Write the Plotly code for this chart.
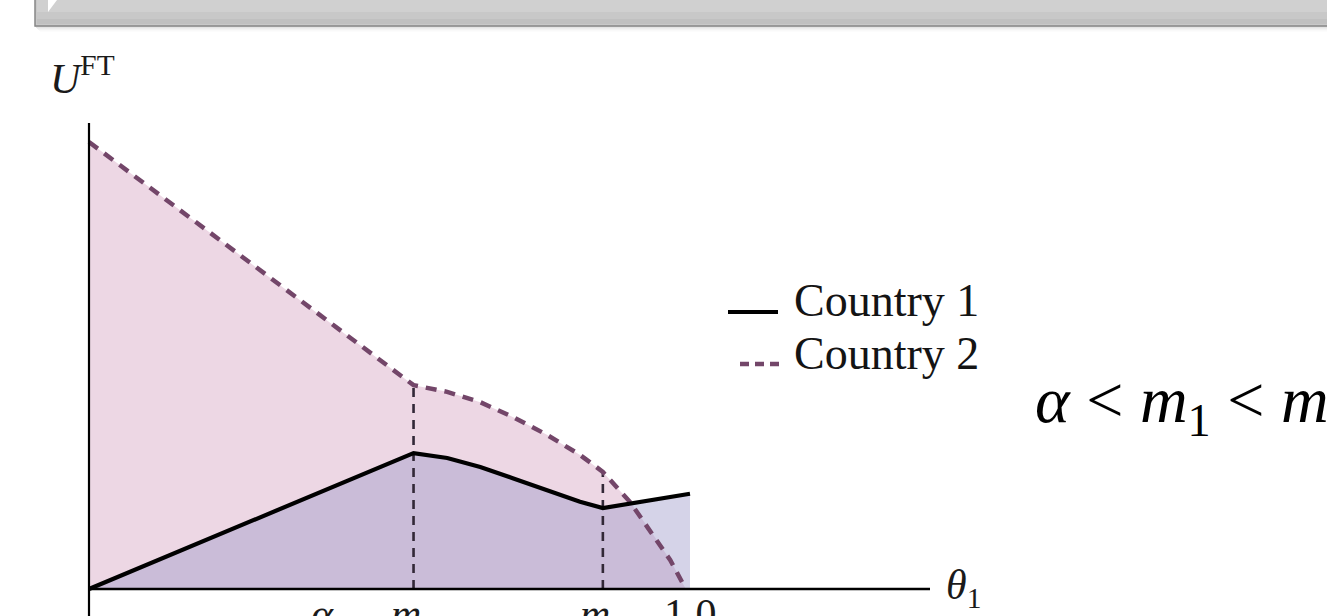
import plotly.graph_objects as go

W, H = 1327, 616

# Utility of country 2 (dashed) and country 1 (solid) against theta_1
theta_c2 = [0.0, 0.540, 0.596, 0.651, 0.705, 0.762, 0.817, 0.855, 0.900, 0.938, 0.967, 0.993]
u_c2 = [1.0, 0.456, 0.441, 0.418, 0.385, 0.345, 0.300, 0.262, 0.195, 0.123, 0.065, 0.0]
theta_c1 = [0.0, 0.540, 0.596, 0.651, 0.705, 0.762, 0.817, 0.855, 1.0]
u_c1 = [0.0, 0.304, 0.293, 0.273, 0.248, 0.221, 0.195, 0.181, 0.213]

# Thresholds m1, m2 and tick labels along the theta axis
thresholds = [0.540, 0.855]
tick_vals = [0.388, 0.540, 0.855, 1.0]
tick_text = ["<i>α</i>", "<i>m</i><sub>1</sub>", "<i>m</i><sub>2</sub>", "1.0"]
series_names = ["Country 1", "Country 2"]

# pixel geometry of the axes frame
X0_PX, UNIT_X = 89, 601
Y0_PX, UNIT_Y = 589, 447
x_range = [-X0_PX / UNIT_X, (W - X0_PX) / UNIT_X]
y_range = [(Y0_PX - H) / UNIT_Y, Y0_PX / UNIT_Y]

SERIF = "Liberation Serif, Times New Roman, serif"
DASH_COL = "rgb(115,70,105)"
PINK = "rgb(237,215,228)"
BLUE_T = "rgba(155,150,200,0.42)"


def px(x):
    return x / W


def py(y):
    return 1 - y / H


fig = go.Figure()

# filled areas
fig.add_trace(go.Scatter(x=theta_c2, y=u_c2, mode="lines", fill="tozeroy",
                         fillcolor=PINK, line=dict(width=0), hoverinfo="skip"))
fig.add_trace(go.Scatter(x=theta_c1, y=u_c1, mode="lines", fill="tozeroy",
                         fillcolor=BLUE_T, line=dict(width=0), hoverinfo="skip"))

# vertical guides at m1 and m2
for m in thresholds:
    top = u_c2[theta_c2.index(m)]
    fig.add_trace(go.Scatter(x=[m, m], y=[0, top], mode="lines",
                             line=dict(color="rgb(50,40,55)", width=2.6, dash="9px,7px"),
                             hoverinfo="skip"))

# curves
fig.add_trace(go.Scatter(x=theta_c2, y=u_c2, mode="lines", name=series_names[1],
                         line=dict(color=DASH_COL, width=4.5, dash="11px,8px")))
fig.add_trace(go.Scatter(x=theta_c1, y=u_c1, mode="lines", name=series_names[0],
                         line=dict(color="black", width=4.2)))

shapes = []
# axes
shapes.append(dict(type="line", xref="x", yref="y", x0=0, x1=(930 - X0_PX) / UNIT_X,
                   y0=0, y1=0, line=dict(color="black", width=2.4)))
shapes.append(dict(type="line", xref="x", yref="y", x0=0, x1=0,
                   y0=y_range[0] - 0.1, y1=(Y0_PX - 123) / UNIT_Y,
                   line=dict(color="black", width=2.2)))

# header banner with shadow
for i, a in enumerate([0.22, 0.16, 0.11, 0.07, 0.04, 0.02]):
    shapes.append(dict(type="rect", xref="paper", yref="paper",
                       x0=px(35 + i), x1=px(W + 20), y0=py(26 + i + 1), y1=py(26 + i),
                       line=dict(width=0), fillcolor=f"rgba(90,90,90,{a})", layer="above"))
shapes.append(dict(type="rect", xref="paper", yref="paper", x0=px(35), x1=px(W + 20),
                   y0=py(26), y1=py(-2), fillcolor="rgb(200,200,200)",
                   line=dict(color="rgb(135,135,135)", width=1.5), layer="above"))
shapes.append(dict(type="rect", xref="paper", yref="paper", x0=px(37), x1=px(W + 20),
                   y0=py(12), y1=py(-2), fillcolor="rgb(208,208,208)",
                   line=dict(width=0), layer="above"))
shapes.append(dict(type="rect", xref="paper", yref="paper", x0=px(37), x1=px(W + 20),
                   y0=py(24), y1=py(19), fillcolor="rgb(192,192,192)",
                   line=dict(width=0), layer="above"))
shapes.append(dict(type="path", xref="paper", yref="paper",
                   path=f"M {px(48)} {py(0)} L {px(57)} {py(0)} L {px(48)} {py(12)} Z",
                   fillcolor="white", line=dict(width=0), layer="above"))

# legend keys
shapes.append(dict(type="line", xref="paper", yref="paper", x0=px(728), x1=px(778),
                   y0=py(312), y1=py(312), line=dict(color="black", width=4)))
shapes.append(dict(type="line", xref="paper", yref="paper", x0=px(740), x1=px(782),
                   y0=py(364), y1=py(364), line=dict(color=DASH_COL, width=4.5, dash="9px,6px")))

annotations = []
annotations.append(dict(xref="paper", yref="paper", x=px(792), y=py(300), text=series_names[0],
                        showarrow=False, xanchor="left", yanchor="middle",
                        font=dict(family=SERIF, size=46, color="#141414")))
annotations.append(dict(xref="paper", yref="paper", x=px(792), y=py(353), text=series_names[1],
                        showarrow=False, xanchor="left", yanchor="middle",
                        font=dict(family=SERIF, size=46, color="#141414")))

# axis titles
annotations.append(dict(xref="paper", yref="paper", x=px(48), y=py(76),
                        text="<i>U</i><sup>FT</sup>", showarrow=False,
                        xanchor="left", yanchor="middle",
                        font=dict(family=SERIF, size=42, color="#1a1a1a")))
annotations.append(dict(xref="paper", yref="paper", x=px(944), y=py(588),
                        text="<i>θ</i><sub>1</sub>", showarrow=False,
                        xanchor="left", yanchor="middle",
                        font=dict(family=SERIF, size=42, color="#1a1a1a")))

# tick labels under the theta axis
for v, t in zip(tick_vals, tick_text):
    annotations.append(dict(xref="x", yref="paper", x=v, y=py(589), text=t,
                            showarrow=False, xanchor="center", yanchor="top",
                            font=dict(family=SERIF, size=42, color="#1a1a1a")))

# ordering condition
annotations.append(dict(xref="paper", yref="paper", x=px(1033), y=py(404),
                        text="<i>α</i> &lt; <i>m</i><sub>1</sub> &lt; <i>m</i><sub>2</sub>",
                        showarrow=False, xanchor="left", yanchor="middle",
                        font=dict(family=SERIF, size=66, color="black")))

fig.update_layout(
    width=W, height=H,
    margin=dict(l=0, r=0, t=0, b=0),
    paper_bgcolor="white", plot_bgcolor="white",
    showlegend=False,
    xaxis=dict(range=x_range, visible=False, fixedrange=True),
    yaxis=dict(range=y_range, visible=False, fixedrange=True),
    shapes=shapes, annotations=annotations,
)

fig.write_html("out.html")
